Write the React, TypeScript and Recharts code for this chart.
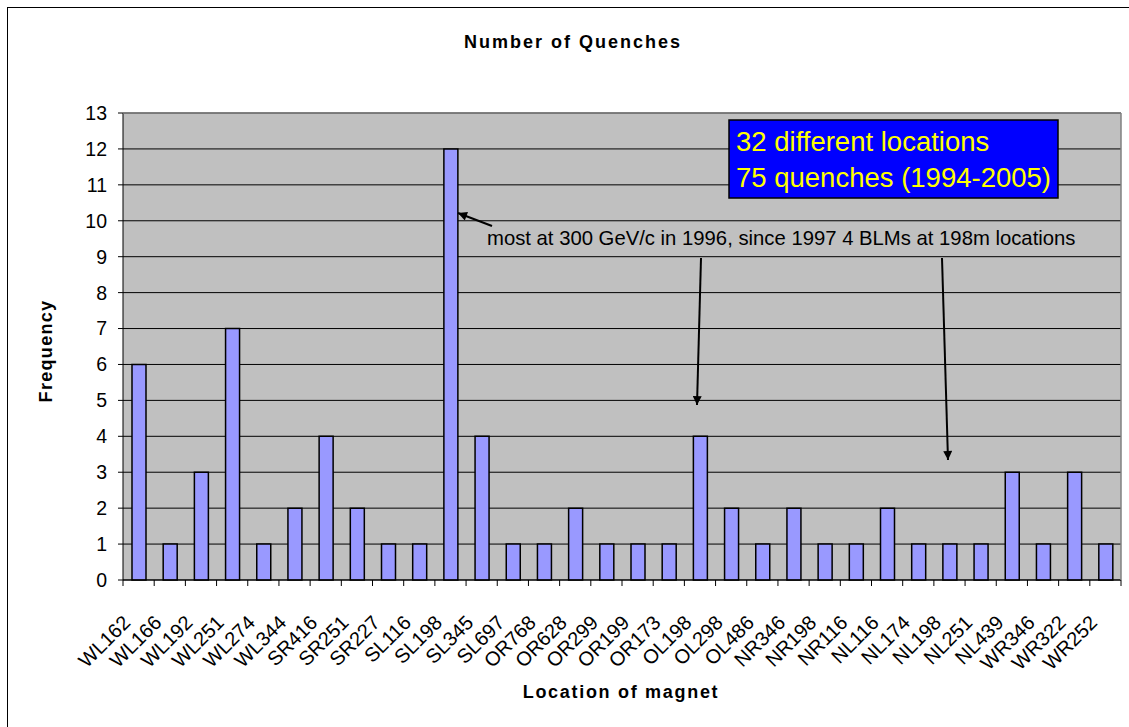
import React from 'react';
import { BarChart, Bar, XAxis, YAxis, CartesianGrid } from 'recharts';

const locations = [
  'WL162', 'WL166', 'WL192', 'WL251', 'WL274', 'WL344', 'SR416', 'SR251',
  'SR227', 'SL116', 'SL198', 'SL345', 'SL697', 'OR768', 'OR628', 'OR299',
  'OR199', 'OR173', 'OL198', 'OL298', 'OL486', 'NR346', 'NR198', 'NR116',
  'NL116', 'NL174', 'NL198', 'NL251', 'NL439', 'WR346', 'WR322', 'WR252',
];
const quenches = [
  6, 1, 3, 7, 1, 2, 4, 2,
  1, 1, 12, 4, 1, 1, 2, 1,
  1, 1, 4, 2, 1, 2, 1, 1,
  2, 1, 1, 1, 3, 1, 3, 1,
];
const yTicks = [0, 1, 2, 3, 4, 5, 6, 7, 8, 9, 10, 11, 12, 13];

const chartTitle = 'Number of Quenches';
const xTitle = 'Location of magnet';
const yTitle = 'Frequency';
const boxLines = ['32 different locations', '75 quenches (1994-2005)'];
const note = 'most at 300 GeV/c in 1996, since 1997 4 BLMs at 198m locations';

const data = locations.map((name, i) => ({ name, value: quenches[i] }));

const FONT = '"Liberation Sans", Arial, Helvetica, sans-serif';

const XTick = (props: any) => {
  const { x, y, payload, index, visibleTicksCount } = props;
  const half = payload && typeof payload.offset === 'number' && payload.offset > 0 ? payload.offset : 15.6;
  const last = index === (visibleTicksCount ?? locations.length) - 1;
  const tx = x - 7;
  const ty = y + 44;
  return (
    <g>
      <line x1={x - half} y1={y} x2={x - half} y2={y + 6} stroke="#000" strokeWidth={1} />
      {last && <line x1={x + half} y1={y} x2={x + half} y2={y + 6} stroke="#000" strokeWidth={1} />}
      <text
        x={tx}
        y={ty}
        textAnchor="end"
        transform={`rotate(-45 ${tx} ${ty})`}
        fontFamily={FONT}
        fontSize={20}
        fill="#000"
      >
        {payload.value}
      </text>
    </g>
  );
};

export default function App() {
  return (
    <div style={{ position: 'absolute', left: 0, top: 0, width: 1129, height: 727, background: '#fff' }}>
      <BarChart
        width={1129}
        height={727}
        data={data}
        margin={{ top: 113, right: 8, bottom: 47, left: 63 }}
        barCategoryGap={0}
      >
        <CartesianGrid
          vertical={false}
          stroke="#000"
          strokeWidth={1}
          fill="#C0C0C0"
          fillOpacity={1}
        />
        <XAxis
          dataKey="name"
          height={100}
          interval={0}
          tickSize={0}
          tickMargin={0}
          tickLine={false}
          axisLine={{ stroke: '#000', strokeWidth: 1 }}
          tick={<XTick />}
        />
        <YAxis
          width={60}
          domain={[0, 13]}
          ticks={yTicks}
          interval={0}
          tickSize={5}
          tickMargin={11}
          axisLine={{ stroke: '#000', strokeWidth: 1 }}
          tickLine={{ stroke: '#000', strokeWidth: 1 }}
          tick={{ fontFamily: FONT, fontSize: 19.5, fill: '#000' }}
        />
        <Bar
          dataKey="value"
          fill="#9999FF"
          stroke="#000"
          strokeWidth={1.5}
          barSize={14}
          isAnimationActive={false}
        />
      </BarChart>
      <svg
        width={1129}
        height={727}
        style={{ position: 'absolute', left: 0, top: 0, pointerEvents: 'none' }}
      >
        <defs>
          <marker
            id="ah"
            viewBox="0 0 10 10"
            refX="10"
            refY="5"
            markerWidth="11"
            markerHeight="9"
            markerUnits="userSpaceOnUse"
            orient="auto"
          >
            <path d="M0,0 L10,5 L0,10 z" fill="#000" />
          </marker>
        </defs>
        <rect x={7.5} y={7.5} width={1300} height={1000} fill="none" stroke="#000" strokeWidth={1} />
        <line x1={123} y1={113} x2={1121} y2={113} stroke="#808080" strokeWidth={1.5} />
        <line x1={1121} y1={113} x2={1121} y2={580} stroke="#808080" strokeWidth={1.5} />
        <text x={573} y={48} textAnchor="middle" fontFamily={FONT} fontSize={18} fontWeight="bold" letterSpacing={2}>
          {chartTitle}
        </text>
        <text
          x={52}
          y={351}
          textAnchor="middle"
          transform="rotate(-90 52 351)"
          fontFamily={FONT}
          fontSize={18}
          fontWeight="bold"
          letterSpacing={1.3}
        >
          {yTitle}
        </text>
        <text x={621} y={698} textAnchor="middle" fontFamily={FONT} fontSize={18} fontWeight="bold" letterSpacing={1.7}>
          {xTitle}
        </text>
        <rect x={729} y={120} width={329} height={78} fill="#0000FF" stroke="#000" strokeWidth={1.5} />
        <text x={736} y={151} fontFamily={FONT} fontSize={27.5} fill="#FFFF00">{boxLines[0]}</text>
        <text x={736} y={187} fontFamily={FONT} fontSize={27.5} fill="#FFFF00">{boxLines[1]}</text>
        <text x={487} y={245} fontFamily={FONT} fontSize={20.3} fill="#000">{note}</text>
        <line x1={492} y1={226} x2={458} y2={213} stroke="#000" strokeWidth={2} markerEnd="url(#ah)" />
        <line x1={701} y1={258} x2={697} y2={405} stroke="#000" strokeWidth={2} markerEnd="url(#ah)" />
        <line x1={942} y1={258} x2={948} y2={460} stroke="#000" strokeWidth={2} markerEnd="url(#ah)" />
      </svg>
    </div>
  );
}
